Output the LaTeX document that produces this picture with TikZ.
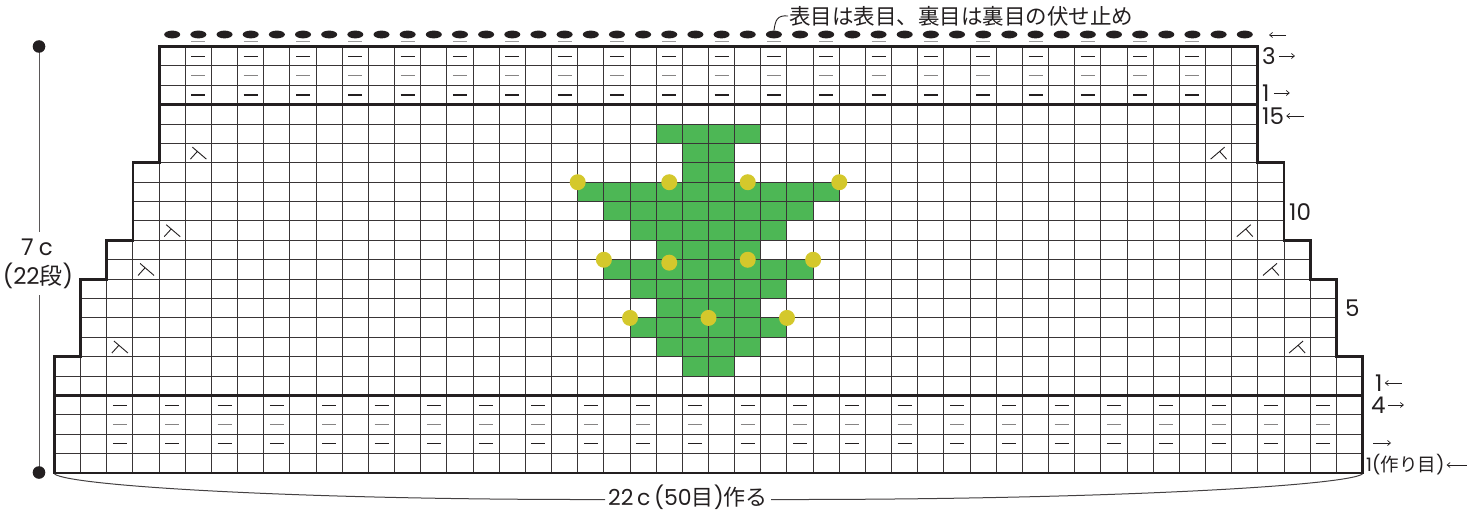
\documentclass[tikz,border=0pt]{standalone}
\usepackage{fontspec}
\setmainfont{Poppins}
\newfontfamily\jp{Noto Sans CJK JP}
\usetikzlibrary{arrows.meta}
\definecolor{knitgreen}{RGB}{77,183,85}
\definecolor{dotyellow}{RGB}{212,200,44}
\definecolor{ink}{RGB}{35,31,32}
\tikzset{
  gridline/.style={line width=1pt, ink!90},
  outline/.style={line width=2.8pt, ink, line join=miter},
  sepline/.style={line width=2.8pt, ink},
  purl/.style={line width=1.1pt, ink},
  purlmid/.style={line width=1.1pt, ink!55},
  decr/.style={line width=0.9pt, ink},
  bindline/.style={line width=1.5pt, ink!45},
  dimline/.style={line width=0.9pt, ink!75},
  braceline/.style={line width=1pt, ink!85},
  rowarrow/.style={line width=0.7pt, ink, -{Straight Barb[length=3pt,width=5pt]}},
  tlabel/.style={inner sep=0pt, font=\fontsize{23}{23}\selectfont, text=ink},
  slabel/.style={inner sep=0pt, font=\fontsize{18.5}{18.5}\selectfont, text=ink},
}
\begin{document}
\begin{tikzpicture}[x=1pt,y=-1pt]
\useasboundingbox (0,0) rectangle (1477,511);

% ---------- chart in cell coordinates ----------
\begin{scope}[shift={(54.5,473)}, x=26.16pt, y=19.386pt]
  % green motif
  \foreach \r/\a/\b in {17/23/26,16/24/25,15/24/25,14/20/29,13/21/28,12/22/27,11/23/26,10/21/28,9/22/27,8/23/26,7/22/27,6/23/26,5/24/25}
    \fill[knitgreen] (\a,\r) rectangle (\b+1,\r+1);
  % grid
  \begin{scope}
    \clip (0,0) -- (0,6) -- (1,6) -- (1,10) -- (2,10) -- (2,12) -- (3,12) -- (3,16) -- (4,16) -- (4,22) -- (46,22) -- (46,16) -- (47,16) -- (47,12) -- (48,12) -- (48,10) -- (49,10) -- (49,6) -- (50,6) -- (50,0) -- cycle;
    \foreach \c in {1,...,49} \draw[gridline] (\c,0) -- (\c,22);
    \foreach \k in {1,...,21} \draw[gridline] (0,\k) -- (50,\k);
  \end{scope}
  % separators and outline
  \draw[sepline] (0,4) -- (50,4);
  \draw[sepline] (4,19) -- (46,19);
  \draw[outline] (0,0) -- (0,6) -- (1,6) -- (1,10) -- (2,10) -- (2,12) -- (3,12) -- (3,16) -- (4,16) -- (4,22) -- (46,22) -- (46,16) -- (47,16) -- (47,12) -- (48,12) -- (48,10) -- (49,10) -- (49,6) -- (50,6) -- (50,0) -- cycle;
  % purl marks, bottom ribbing
  \foreach \c in {2,4,...,48} {
    \draw[purl] (\c+0.5,1.5) +(-7pt,0) -- +(7pt,0);
    \draw[purlmid] (\c+0.5,2.5) +(-7pt,0) -- +(7pt,0);
    \draw[purl] (\c+0.5,3.5) +(-7pt,0) -- +(7pt,0);
  }
  % purl marks, top ribbing
  \foreach \c in {5,7,...,43} {
    \draw[purl] (\c+0.5,19.5) +(-7pt,0) -- +(7pt,0);
    \draw[purlmid] (\c+0.5,20.5) +(-7pt,0) -- +(7pt,0);
    \draw[purl] (\c+0.5,21.5) +(-7pt,0) -- +(7pt,0);
  }
  % bind off
  \foreach \c in {4,...,45}
    \fill[ink] (\c+0.5,22.62) ellipse [x radius=8pt, y radius=3.9pt];
  \foreach \c in {5,7,...,43}
    \draw[bindline] (\c+0.5,22.27) +(-7pt,0) -- +(7pt,0);
  \coordinate (ovtop) at (27.5,22.82);
  % decreases
  \foreach \c/\r in {5/16,4/12,3/10,2/6}
    \draw[decr] (\c+0.5,\r+0.5) +(-6pt,6pt) -- +(8pt,-6pt)
                (\c+0.5,\r+0.5) +(-1pt,1.7pt) -- +(-8pt,-6pt);
  \foreach \c/\r in {44/16,45/12,46/10,47/6}
    \draw[decr] (\c+0.5,\r+0.5) +(6pt,6pt) -- +(-8pt,-6pt)
                (\c+0.5,\r+0.5) +(1pt,1.7pt) -- +(8pt,-6pt);
  % yellow dots
  \foreach \x/\y in {20/15,23.5/15,26.5/15,30/15,21/11,23.5/10.85,26.5/11,29/11,22/8,25/8,28/8}
    \fill[dotyellow] (\x,\y) circle [radius=8pt];
\end{scope}

% ---------- top note ----------
\node[tlabel, anchor=west, font=\fontsize{21.5}{21.5}\jp] (note) at (789,16) {表目は表目、裏目は裏目の伏せ止め};
\draw[line width=0.9pt, ink] ([xshift=-1pt]note.west) .. controls (777,15) and (775.5,20) .. (ovtop);

% ---------- row labels ----------
\node[tlabel, anchor=west] (r3) at (1262,56) {3};
\draw[rowarrow] ([xshift=3pt]r3.east) -- ++(16,0);
\node[tlabel, anchor=west] (r1t) at (1262,93) {1};
\draw[rowarrow] ([xshift=4pt]r1t.east) -- ++(16,0);
\node[tlabel, anchor=west] (r15) at (1262,116) {15};
\draw[rowarrow] ([xshift=20pt]r15.east) -- ++(-18,0);
\coordinate (bo) at (1286,35);
\draw[rowarrow] (bo) -- ++(-17,0);
\node[tlabel, anchor=west] (r10) at (1289,212) {10};
\node[tlabel, anchor=west] (r5) at (1345,308) {5};
\node[tlabel, anchor=west] (r1b) at (1375,383) {1};
\draw[rowarrow] ([xshift=19pt]r1b.east) -- ++(-17,0);
\node[tlabel, anchor=west] (r4) at (1371,405) {4};
\draw[rowarrow] ([xshift=2pt]r4.east) -- ++(16,0);
\coordinate (r2a) at (1373,443);
\draw[rowarrow] (r2a) -- ++(18,0);
\node[slabel, anchor=west] (r0) at (1366,465) {1({\jp 作り目})};
\draw[rowarrow] ([xshift=22pt]r0.east) -- ++(-20,0);

% ---------- height dimension ----------
\coordinate (dtop) at (39,46.5);
\coordinate (dbot) at (39,472.5);
\node[tlabel, font=\fontsize{23}{23}\selectfont] (dimA) at (37,247) {7\hspace{5pt}c};
\node[tlabel, font=\fontsize{23}{23}\selectfont] (dimB) at (38,276) {(22{\jp 段})};
\draw[dimline] (dtop) -- ([yshift=6pt]dimA.north -| dtop);
\draw[dimline] ([yshift=-6pt]dimB.south -| dbot) -- (dbot);
\fill[ink] (dtop) circle [radius=6.3pt];
\fill[ink] (dbot) circle [radius=6.3pt];

% ---------- width dimension ----------
\node[tlabel, font=\fontsize{22}{22}\selectfont] (wtext) at (688,497.5) {22\,c\,(50{\jp 目}){\jp 作る}};
\coordinate (bl) at (54.5,474);
\coordinate (br) at (1362.5,474);
\draw[braceline] (bl) .. controls (70,486) and (300,500) .. ([xshift=-3pt,yshift=-2pt]wtext.west);
\draw[braceline] (br) .. controls (1345,486) and (1100,500) .. ([xshift=3pt,yshift=-2pt]wtext.east);
\end{tikzpicture}
\end{document}
